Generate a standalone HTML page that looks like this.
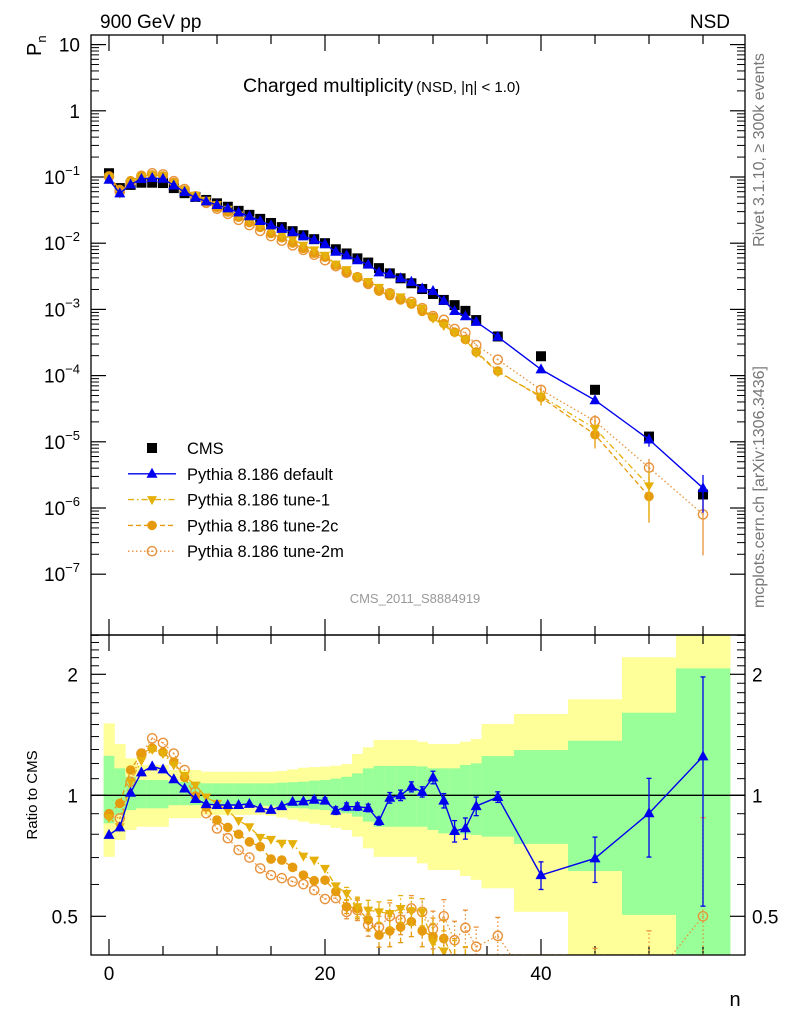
<!DOCTYPE html>
<html><head><meta charset="utf-8"><style>
html,body{margin:0;padding:0;background:#fff;width:786px;height:1024px;overflow:hidden;}
svg{display:block;font-family:"Liberation Sans",sans-serif;}
</style></head><body>
<svg id="chart" width="786" height="1024" viewBox="0 0 786 1024" xmlns="http://www.w3.org/2000/svg">
<defs>
<clipPath id="clipTop"><rect x="91" y="35" width="654" height="600"/></clipPath>
<clipPath id="clipBot"><rect x="91" y="635" width="654" height="320"/></clipPath>
</defs>
<g id="bands" clip-path="url(#clipBot)"></g>
<g id="grid"></g>
<g id="series"></g>
<rect x="91" y="35" width="654" height="600" fill="none" stroke="#000" stroke-width="1.3"/>
<rect x="91" y="635" width="654" height="320" fill="none" stroke="#000" stroke-width="1.3"/>
<text x="100" y="28" font-size="19">900 GeV pp</text>
<text x="730" y="28" font-size="19" text-anchor="end">NSD</text>
<text transform="translate(41,56) rotate(-90)" font-size="20">P<tspan font-size="13" dy="5">n</tspan></text>
<text x="243" y="92" font-size="19.5">Charged multiplicity<tspan font-size="15" dx="3">(NSD, |η| &lt; 1.0)</tspan></text>
<text x="415" y="603" font-size="13" fill="#999" text-anchor="middle">CMS_2011_S8884919</text>
<text transform="translate(764,150) rotate(-90)" font-size="16" fill="#777" text-anchor="middle">Rivet 3.1.10, ≥ 300k events</text>
<text transform="translate(764,487) rotate(-90)" font-size="16" fill="#777" text-anchor="middle">mcplots.cern.ch [arXiv:1306.3436]</text>
<text transform="translate(37,795) rotate(-90)" font-size="15" text-anchor="middle">Ratio to CMS</text>
<text x="735" y="1006" font-size="20" text-anchor="middle">n</text>
<g id="legend"></g>
</svg>
<script>
const nVals=[0,1,2,3,4,5,6,7,8,9,10,11,12,13,14,15,16,17,18,19,20,21,22,23,24,25,26,27,28,29,30,31,32,33,34,36,40,45,50,55];
const binEdges=[-0.5,0.5,1.5,2.5,3.5,4.5,5.5,6.5,7.5,8.5,9.5,10.5,11.5,12.5,13.5,14.5,15.5,16.5,17.5,18.5,19.5,20.5,21.5,22.5,23.5,24.5,25.5,26.5,27.5,28.5,29.5,30.5,31.5,32.5,33.5,34.5,37.5,42.5,47.5,52.5,57.5];
const cmsVals=[0.114,0.068,0.076,0.082,0.082,0.081,0.068,0.057,0.050,0.045,0.040,0.0355,0.0308,0.0268,0.0233,0.0202,0.0175,0.0152,0.0132,0.0115,0.0100,0.0081,0.0070,0.0059,0.0051,0.0042,0.0035,0.00295,0.00248,0.00203,0.00171,0.00139,0.00116,0.00095,0.00069,0.00039,0.000196,6.1e-5,1.2e-5,1.6e-6];
const ratioDefault=[0.797,0.832,1.015,1.14,1.18,1.16,1.096,1.04,0.979,0.951,0.946,0.946,0.946,0.952,0.928,0.92,0.94,0.964,0.966,0.975,0.97,0.916,0.937,0.937,0.93,0.863,0.986,1.0,1.05,1.02,1.108,0.97,0.815,0.828,0.94,0.99,0.633,0.697,0.902,1.25];
const errDefault=[0.01,0.01,0.01,0.01,0.01,0.01,0.01,0.01,0.01,0.01,0.01,0.01,0.01,0.01,0.01,0.01,0.01,0.01,0.01,0.015,0.015,0.02,0.02,0.02,0.02,0.02,0.03,0.03,0.03,0.03,0.04,0.04,0.05,0.05,0.05,0.03,0.05,0.09,0.2,0.72];
const ratioTune1=[0.88,0.835,1.08,1.22,1.30,1.27,1.19,1.12,1.06,0.99,0.955,0.916,0.865,0.835,0.786,0.777,0.76,0.758,0.706,0.69,0.658,0.595,0.57,0.528,0.518,0.513,0.508,0.523,0.515,0.513,0.43,0.41,0.385,0.37,0.32,0.29,0.25,0.26,0.18,null];
const ratioTune2c=[0.9,0.955,1.156,1.27,1.31,1.28,1.21,1.108,0.996,0.934,0.868,0.832,0.80,0.766,0.745,0.694,0.69,0.662,0.633,0.613,0.615,0.576,0.528,0.523,0.49,0.449,0.46,0.47,0.485,0.46,0.445,0.44,0.39,0.37,0.33,0.30,0.24,0.21,0.125,null];
const ratioTune2m=[0.893,0.876,1.081,1.27,1.386,1.35,1.27,1.156,1.02,0.902,0.827,0.782,0.731,0.70,0.658,0.633,0.622,0.61,0.601,0.581,0.552,0.555,0.513,0.518,0.476,0.47,0.50,0.49,0.523,0.513,0.465,0.50,0.436,0.468,0.42,0.447,0.31,0.336,0.34,0.5];
const errTunes=[0,0,0,0,0,0,0,0,0,0,0,0,0,0,0,0,0,0,0,0,0.01,0.01,0.02,0.03,0.03,0.03,0.04,0.04,0.04,0.04,0.05,0.05,0.05,0.05,0.05,0.05,0.06,0.08,0.12,0.38];
const bandYellowHi=[1.51,1.342,1.236,1.19,1.19,1.19,1.156,1.156,1.156,1.145,1.145,1.145,1.145,1.145,1.145,1.145,1.15,1.16,1.171,1.175,1.178,1.185,1.196,1.267,1.316,1.373,1.373,1.373,1.373,1.359,1.342,1.342,1.342,1.36,1.38,1.505,1.593,1.733,2.205,3.0];
const bandGreenHi=[1.254,1.167,1.112,1.092,1.092,1.092,1.08,1.08,1.08,1.071,1.071,1.071,1.071,1.071,1.071,1.071,1.075,1.078,1.081,1.088,1.092,1.1,1.112,1.134,1.167,1.183,1.183,1.183,1.183,1.18,1.167,1.167,1.167,1.19,1.201,1.252,1.296,1.367,1.605,2.069];
const bandGreenLo=[0.852,0.893,0.919,0.928,0.928,0.928,0.945,0.945,0.945,0.942,0.942,0.942,0.942,0.942,0.942,0.94,0.935,0.93,0.928,0.922,0.919,0.91,0.902,0.885,0.86,0.835,0.835,0.835,0.835,0.835,0.82,0.804,0.804,0.80,0.797,0.789,0.757,0.648,0.504,0.3];
const bandYellowLo=[0.703,0.774,0.82,0.835,0.835,0.835,0.877,0.877,0.877,0.894,0.894,0.894,0.894,0.894,0.894,0.89,0.88,0.87,0.86,0.85,0.843,0.83,0.82,0.789,0.738,0.703,0.703,0.703,0.703,0.677,0.652,0.652,0.652,0.63,0.616,0.587,0.513,0.3,0.3,0.3];
const xTicks=[0,20,40];
const topDecades=[-7,-6,-5,-4,-3,-2,-1,0,1];
const ratioMajor=[0.5,1,2];
const ratioMinor=[0.6,0.7,0.8,0.9,1.1,1.2,1.3,1.4,1.5,1.6,1.7,1.8,1.9,2.1,2.2,2.3,2.4,2.5];

const NS="http://www.w3.org/2000/svg";
function X(n){return 109+10.8*n;}
function YT(p){return 177-66.2*Math.log10(p/0.1);}
function YR(r){return 795.3-121*Math.log2(r);}
function cB(y){return Math.min(955,Math.max(635,y));}
function cT(y){return Math.min(635,Math.max(35,y));}
function mk(tag,attrs,parent){const e=document.createElementNS(NS,tag);for(const k in attrs)e.setAttribute(k,attrs[k]);parent.appendChild(e);return e;}

const bandsG=document.getElementById('bands');
for(let i=0;i<nVals.length;i++){
  const x0=X(binEdges[i]),x1=Math.min(X(binEdges[i+1]),745);
  const yt=cB(YR(bandYellowHi[i])),yb=cB(YR(bandYellowLo[i]));
  const y=mk('rect',{x:x0,y:yt,width:x1-x0+0.4,height:yb-yt,fill:'#ffff99'},bandsG);
  
  
  const gt=cB(YR(bandGreenHi[i])),gb=cB(YR(bandGreenLo[i]));
  const g=mk('rect',{x:x0,y:gt,width:x1-x0+0.4,height:gb-gt,fill:'#99ff99'},bandsG);
  
  
}
const grid=document.getElementById('grid');
const unitL=mk('line',{x1:91,x2:745,y1:YR(1),y2:YR(1),stroke:'#000','stroke-width':1.3},grid);


for(let v=0;v<=55;v+=5){
  const major=xTicks.includes(v);const L=major?16:9;
  [[35,1],[635,-1],[635,1],[955,-1]].forEach(([y0,d])=>{
    mk('line',{x1:X(v),x2:X(v),y1:y0,y2:y0+d*L,stroke:'#000','stroke-width':1.2},grid);
  });
}
xTicks.forEach(v=>{
  const t=mk('text',{x:X(v),y:980,'font-size':19,'text-anchor':'middle'},grid);
  t.textContent=v;
  
  
});
topDecades.forEach(d=>{
  const y=YT(Math.pow(10,d));
  [[91,1],[745,-1]].forEach(([x0,s])=>mk('line',{x1:x0,x2:x0+s*15,y1:y,y2:y,stroke:'#000','stroke-width':1.2},grid));
  for(let m=2;m<=9;m++){
    const ym=YT(m*Math.pow(10,d));
    if(ym<35)continue;
    [[91,1],[745,-1]].forEach(([x0,s])=>mk('line',{x1:x0,x2:x0+s*8,y1:ym,y2:ym,stroke:'#000','stroke-width':1},grid));
  }
  const t=mk('text',{x:80,y:y+7,'font-size':19,'text-anchor':'end'},grid);
  
  
  if(d===0)t.textContent='1';
  else if(d===1)t.textContent='10';
  else{t.textContent='10';const s=mk('tspan',{'font-size':13,dy:-9},t);s.textContent=String(d).replace('-','−');}
});
ratioMajor.forEach(r=>{
  const y=YR(r);
  [[91,1],[745,-1]].forEach(([x0,s])=>mk('line',{x1:x0,x2:x0+s*15,y1:y,y2:y,stroke:'#000','stroke-width':1.2},grid));
  const t=mk('text',{x:78,y:y+7,'font-size':19,'text-anchor':'end'},grid);t.textContent=r;
  
  
  const t2=mk('text',{x:752,y:y+7,'font-size':19},grid);t2.textContent=r;
  
  
});
ratioMinor.forEach(r=>{
  const y=YR(r);if(y<635)return;
  [[91,1],[745,-1]].forEach(([x0,s])=>mk('line',{x1:x0,x2:x0+s*8,y1:y,y2:y,stroke:'#000','stroke-width':1},grid));
});

function marker(kind,x,y,color,parent){
  if(kind==='square')return mk('rect',{x:x-5,y:y-5,width:10,height:10,fill:'#000'},parent);
  if(kind==='up')return mk('path',{d:`M${x},${y-6}L${x+5.5},${y+4}L${x-5.5},${y+4}Z`,fill:color},parent);
  if(kind==='down')return mk('path',{d:`M${x},${y+5.5}L${x+5},${y-3.5}L${x-5},${y-3.5}Z`,fill:color},parent);
  if(kind==='dot')return mk('circle',{cx:x,cy:y,r:4.8,fill:color},parent);
  const g=mk('g',{},parent);
  mk('circle',{cx:x,cy:y,r:4.6,fill:'none',stroke:color,'stroke-width':1.4},g);
  mk('circle',{cx:x,cy:y,r:0.9,fill:color},g);
  return g;
}
const seriesG=document.getElementById('series');
const topG=mk('g',{'clip-path':'url(#clipTop)'},seriesG);
const botG=mk('g',{'clip-path':'url(#clipBot)'},seriesG);
const seriesDefs=[
 {name:'tune-2m',r:ratioTune2m,err:errTunes,color:'#e8923a',dash:'1.5,2.5',kind:'open',w:1.3},
 {name:'tune-2c',r:ratioTune2c,err:errTunes,color:'#e69a0e',dash:'5,3',kind:'dot',w:1.3},
 {name:'tune-1',r:ratioTune1,err:errTunes,color:'#e6b00b',dash:'6,3,1.5,3',kind:'down',w:1.3},
 {name:'default',r:ratioDefault,err:errDefault,color:'#0000ee',dash:'',kind:'up',w:1.4}
];
for(let i=0;i<nVals.length;i++){
  const m=marker('square',X(nVals[i]),YT(cmsVals[i]),'#000',topG);
  
  
}
seriesDefs.forEach(s=>{
  const ptsT=[],ptsR=[];
  for(let i=0;i<nVals.length;i++){
    if(s.r[i]==null)continue;
    ptsT.push([X(nVals[i]),YT(cmsVals[i]*s.r[i])]);
    ptsR.push([X(nVals[i]),YR(s.r[i])]);
  }
  // clip polyline in ratio panel: interpolate crossing at bottom edge
  const ptsRc=[];
  for(let k=0;k<ptsR.length;k++){
    const p=ptsR[k];
    if(k>0){
      const q=ptsR[k-1];
      if((q[1]<=955)!==(p[1]<=955)){
        const t=(955-q[1])/(p[1]-q[1]);
        ptsRc.push([q[0]+t*(p[0]-q[0]),955]);
      }
    }
    ptsRc.push([p[0],Math.min(p[1],955)]);
  }
  [[topG,ptsT],[botG,ptsRc]].forEach(([par,pts])=>{
    const l=mk('polyline',{points:pts.map(p=>p.join(',')).join(' '),fill:'none',stroke:s.color,'stroke-width':s.w,'stroke-dasharray':s.dash},par);
    
    
  });
  for(let i=0;i<nVals.length;i++){
    if(s.r[i]==null)continue;
    const x=X(nVals[i]);const e=s.err[i];
    if(e>0.012){
      const lo=Math.max(s.r[i]-e,0.05),hi=s.r[i]+e;
      const ylo=cB(YR(lo)),yhi=cB(YR(hi));
      if(ylo>yhi)mk('line',{x1:x,x2:x,y1:ylo,y2:yhi,stroke:s.color,'stroke-width':1.3,'stroke-dasharray':s.dash},botG);
      if(YR(hi)<955&&YR(hi)>635)mk('line',{x1:x-2.5,x2:x+2.5,y1:YR(hi),y2:YR(hi),stroke:s.color,'stroke-width':1.3},botG);
      if(YR(lo)<955&&YR(lo)>635)mk('line',{x1:x-2.5,x2:x+2.5,y1:YR(lo),y2:YR(lo),stroke:s.color,'stroke-width':1.3},botG);
      if(nVals[i]>=40){
        mk('line',{x1:x,x2:x,y1:cT(YT(cmsVals[i]*lo)),y2:cT(YT(cmsVals[i]*hi)),stroke:s.color,'stroke-width':1.3},topG);
      }
    }
    const a=marker(s.kind,x,YT(cmsVals[i]*s.r[i]),s.color,topG);
    
    
    if(YR(s.r[i])<962){
      const b=marker(s.kind,x,YR(s.r[i]),s.color,botG);
      
      
    }
  }
});
const leg=document.getElementById('legend');
const legItems=[
 {label:'CMS',kind:'square',color:'#000',dash:null},
 {label:'Pythia 8.186 default',kind:'up',color:'#0000ee',dash:''},
 {label:'Pythia 8.186 tune-1',kind:'down',color:'#e6b00b',dash:'6,3,1.5,3'},
 {label:'Pythia 8.186 tune-2c',kind:'dot',color:'#e69a0e',dash:'5,3'},
 {label:'Pythia 8.186 tune-2m',kind:'open',color:'#e8923a',dash:'1.5,2.5'}
];
legItems.forEach((it,k)=>{
  const y=448+25.8*k;
  const g=mk('g',{},leg);
  
  
  if(it.dash!==null)mk('line',{x1:128,x2:176,y1:y,y2:y,stroke:it.color,'stroke-width':1.4,'stroke-dasharray':it.dash},g);
  marker(it.kind,152,y,it.color,g);
  const t=mk('text',{x:187,y:y+6,'font-size':16.5},g);t.textContent=it.label;
});
</script>
</body></html>
